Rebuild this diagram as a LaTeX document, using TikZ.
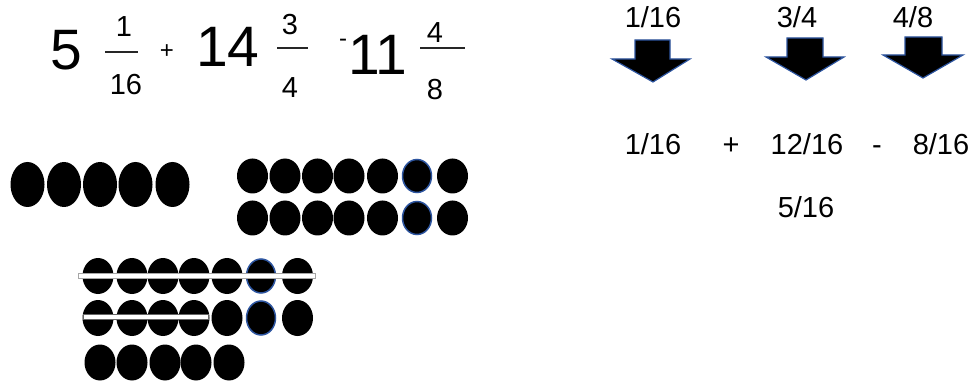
\documentclass[tikz,border=0pt]{standalone}
\usepackage{fontspec}
\setmainfont{Liberation Sans}
\definecolor{rimblue}{RGB}{45,85,160}
\begin{document}
\begin{tikzpicture}[x=1pt,y=-1pt,
  big/.style={font=\fontsize{57}{60}\selectfont, inner sep=0, anchor=base},
  mid/.style={font=\fontsize{29}{32}\selectfont, inner sep=0, anchor=base},
  sm/.style={font=\fontsize{24}{26}\selectfont, inner sep=0},
  fbar/.style={line width=1.6pt, black!85},
  dot/.style={fill=black},
  bdot/.style={fill=black, draw=rimblue, line width=1.5pt},
  arr/.style={fill=black, draw=rimblue, line width=1.2pt, line join=miter},
  strike/.style={fill=white, draw=black!60, line width=0.5pt}]
\useasboundingbox (0,0) rectangle (980,382);
% left expression
\node[big] (n5) at (66,70) {5};
\node[mid] (a1) at (124,37) {1};
\draw[fbar] (105,52) -- (138,52);
\node[mid] (a16) at (126,95) {16};
\node[sm] (plus) at (167,52) {+};
\node[big] (n14) at (228,67) {14};
\node[mid] (b3) at (290,35) {3};
\draw[fbar] (277,48) -- (308,48);
\node[mid] (b4) at (290,98) {4};
\node[sm] (minus) at (343,43) {-};
\node[big] (n11) at (378,75) {11};
\node[mid] (c4) at (435,43) {4};
\draw[fbar] (420,48) -- (465,48);
\node[mid] (c8) at (435,100) {8};
% five wholes
\foreach \x in {27.5,64,100,135.5,172.5}
  \fill[dot] (\x,184.5) ellipse (17 and 22.5);
% fourteen + ... (two rows of seven)
\foreach \y in {176,218}{
  \foreach \x in {252.5,285,317.5,349,382.5,452.5}
    \fill[dot] (\x,\y) ellipse (15.5 and 17.5);
  \filldraw[bdot] (417,\y) ellipse (14.5 and 16.5);
}
% subtraction group
\foreach \y in {276,318}{
  \foreach \x in {98,132,163,194,227,297.5}
    \fill[dot] (\x,\y) ellipse (15.5 and 18);
  \filldraw[bdot] (261,\y) ellipse (14.5 and 17);
}
\foreach \x in {100,132,165,196,229}
  \fill[dot] (\x,362.5) ellipse (15.5 and 18);
\filldraw[fill=white, draw=black!35, line width=0.4pt] (78,273.5) rectangle (315,278.5);
\filldraw[strike] (83,314) rectangle (208,319.5);
% right side
\node[mid] (t1) at (653,28) {1/16};
\node[mid] (t2) at (797,28) {3/4};
\node[mid] (t3) at (913,28) {4/8};
\filldraw[arr] (635,40) -- (670,40) -- (670,59) -- (690,59) -- (653,82) -- (612,59) -- (635,59) -- cycle;
\filldraw[arr] (787,38) -- (823,38) -- (823,57) -- (844,57) -- (806,80) -- (766,57) -- (787,57) -- cycle;
\filldraw[arr] (905,37) -- (942,37) -- (942,55) -- (963,55) -- (923,78) -- (883,55) -- (905,55) -- cycle;
\node[mid] (r1) at (653,155) {1/16};
\node[mid] (rp) at (731,155) {+};
\node[mid] (r2) at (807,155) {12/16};
\node[mid] (rm) at (877,155) {-};
\node[mid] (r3) at (941,155) {8/16};
\node[mid] (res) at (806,218) {5/16};
\end{tikzpicture}
\end{document}
